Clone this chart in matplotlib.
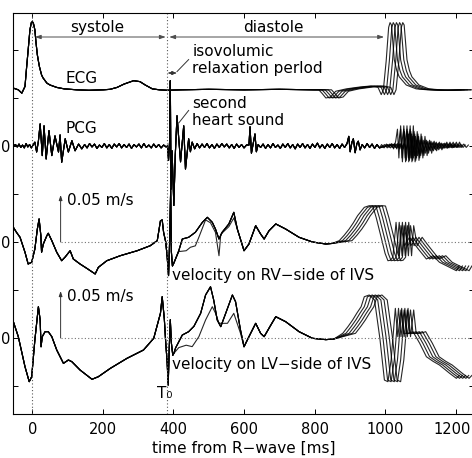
import numpy as np
import matplotlib
matplotlib.use("Agg")
import matplotlib.pyplot as plt
import matplotlib.transforms as mtransforms

plt.rcParams['font.family'] = ['DejaVu Sans']

# ---------------- data (time in ms, ECG/PCG in arbitrary units, velocity in cm/s) ----------------
beat_shifts_ms = [0, 9, 18, 27, 36]
T0_ms = 383

ecg_t_early = [-54, -40, -30, -21, -17, -12, -7, -3, 0, 3, 7, 10, 14, 17, 20, 26, 30, 41, 50, 69, 90, 126,
               160, 201, 220, 240, 260, 287, 305, 320, 340, 360, 382, 420, 500, 600, 700, 800]
ecg_v_early = [0.035, 0.0, -0.07, 0.07, 0.42, 0.83, 1.25, 1.40, 1.42, 1.38, 1.25, 1.0, 0.73, 0.6, 0.48, 0.31,
               0.25, 0.14, 0.10, 0.05, 0.02, 0.0, -0.01, 0.0, 0.01, 0.05, 0.12, 0.19, 0.17, 0.10, 0.02, 0.0,
               -0.01, 0.0, 0.01, 0.0, 0.01, 0.0]
ecg_t_late = [812, 822, 832, 845, 860, 890, 930, 960, 980, 989, 995, 1003, 1010, 1014, 1018, 1026, 1033,
              1040, 1060, 1088, 1120, 1160, 1200, 1215]
ecg_v_late = [0.0, -0.08, -0.17, -0.15, -0.03, 0.02, 0.06, 0.08, 0.05, -0.10, 0.0, 0.6, 1.3, 1.40, 1.35,
              0.625, 0.40, 0.27, 0.10, 0.02, 0.0, -0.01, 0.0, 0.0]

pcg_t_early = [-54, -48, -43, -38, -33, -28, -23, -18, -13, -8, -3, 2,
               7, 12, 17, 22, 28, 33, 39, 47, 55, 64, 74, 78.5, 83, 93, 102, 112, 121, 131, 140,
               148, 155, 162, 169, 176, 183, 190, 197, 204, 211, 218, 225, 232, 239, 246, 253, 260, 267,
               274, 281, 288, 295, 302, 309, 316, 323, 330, 337, 344, 351, 358, 365, 372, 379,
               383, 386, 389, 391, 393, 396, 401, 405, 410, 420, 429, 434, 443, 448, 453, 460, 467, 474,
               481, 488, 495, 502, 509, 516, 523, 530, 537, 544, 551, 558, 565, 572, 579, 586, 593, 600, 607,
               614, 617, 621, 626, 631, 635, 640,
               647, 654, 661, 668, 675, 682, 689, 696, 703, 710, 717, 724, 731, 738, 745, 752, 759, 766,
               773, 780, 787, 794, 801, 808, 815, 822, 829, 836, 843, 850, 857, 864, 871, 878, 885,
               892, 897, 901, 906, 910, 915, 920, 924, 929, 935, 942, 949, 956, 963, 970, 977, 984]
pcg_v_early = [0.0, 0.03, -0.02, 0.04, -0.03, 0.02, -0.04, 0.05, -0.02, 0.03, -0.04, 0.02,
               0.08, -0.125, 0.10, 0.46, -0.20, 0.42, -0.27, 0.32, -0.20, 0.21, -0.125, 0.23, -0.34, 0.15,
               -0.125, 0.11, -0.10, 0.04, -0.06,
               0.03, -0.04, 0.05, -0.02, 0.04, -0.05, 0.02, -0.03, 0.05, -0.04, 0.03, -0.05, 0.04, -0.02,
               0.05, -0.04, 0.03, -0.03, 0.04, -0.05, 0.03, -0.02, 0.04, -0.04, 0.05, -0.03, 0.02, -0.04,
               0.04, -0.03, 0.03, -0.04, 0.02, -0.02,
               0.0, -0.3, 0.1, 1.36, -0.90, -0.10, -1.24, -0.2, 0.63, -0.33, 0.42, -0.48, 0.15, -0.12, 0.08,
               -0.06, 0.05, -0.04,
               0.04, -0.03, 0.05, -0.04, 0.03, -0.05, 0.04, -0.03, 0.05, -0.02, 0.04, -0.04, 0.03, -0.05,
               0.04, -0.03, 0.03, -0.04, 0.02,
               0.02, 0.40, -0.15, 0.05, 0.25, -0.12, 0.03,
               -0.03, 0.04, -0.05, 0.03, -0.04, 0.05, -0.03, 0.02, -0.05, 0.04, -0.03, 0.05, -0.04, 0.03,
               -0.06, 0.04, -0.03, 0.05, -0.04, 0.03, -0.05, 0.04, -0.03, 0.06, -0.04, 0.03, -0.05, 0.04,
               -0.03, 0.05, -0.04, 0.03, -0.05, 0.04, -0.03,
               0.05, 0.20, -0.12, 0.08, 0.15, -0.14, 0.05, 0.10, -0.08, 0.03, -0.04, 0.05, -0.03, 0.04,
               -0.05, 0.03, -0.04]
pcg_t_late = [990, 997, 1004, 1011, 1018, 1024, 1030, 1035, 1039, 1044, 1049, 1055, 1060, 1066, 1071, 1077,
              1083, 1090, 1096, 1103, 1110, 1118, 1125, 1133, 1140, 1147, 1154, 1161, 1168, 1175, 1180,
              1187, 1194, 1200]
pcg_v_late = [0.03, -0.04, 0.04, -0.03, 0.05, -0.06, 0.10, 0.35, -0.25, 0.42, -0.33, 0.30, -0.30, 0.25,
              -0.25, 0.20, -0.20, 0.12, -0.15, 0.10, -0.10, 0.08, -0.08, 0.06, -0.05, 0.05, -0.04, 0.04,
              -0.03, 0.08, -0.03, 0.04, -0.03, 0.02]

rv_t_early = [-54, -45, -35, -21, -12, -2, 7, 14, 19, 24, 26, 31, 41, 45, 55, 69, 83, 93, 107, 116, 135, 154,
              178, 187, 211, 249, 297, 334, 354, 363, 368, 372, 378, 382, 386, 389, 392, 394, 397, 401, 415,
              425, 443, 462, 482, 496, 510, 519, 529, 538, 557, 571, 581, 600, 614, 633, 647, 657, 671, 690,
              718, 756, 794, 832, 850]
rv_v_early = [1.53, 1.0, 0.49, -1.07, -2.29, -2.11, -0.73, 1.35, 2.40, 0.66, -1.07, -0.21, 0.66, 0.91, 0.14,
              -1.07, -1.95, -1.56, -0.91, -1.77, -2.29, -2.74, -3.33, -2.64, -1.95, -1.43, -0.91, -0.39, 0.14,
              2.2, 2.3, 1.0, 0.0, -1.5, -3.5, 0.0, 5.5, -1.0, -2.5, -2.2, -0.91, 0.31, 0.49, 1.01, 2.05, 2.57,
              2.05, 1.35, 0.31, 1.01, 1.88, 3.09, 1.35, -0.91, -0.21, 1.70, 0.83, 0.31, 1.18, 1.88, 1.35, 0.49,
              0.0, -0.21, -0.15]
rv_t_alt = [401, 415, 436, 448, 462, 472, 491, 505, 519, 529, 534, 557, 571, 581, 600]
rv_v_alt = [-2.2, -1.0, -0.91, -0.55, -0.4, 0.5, 2.3, 2.0, 1.0, -1.43, 0.8, 1.6, 2.5, 1.35, -0.91]
rv_t_late = [870, 884, 898, 910, 922, 941, 955, 965, 975, 990, 1000, 1008, 1015, 1022, 1031, 1039, 1045,
             1055, 1069, 1083, 1098, 1117, 1136, 1154, 1183, 1202, 1210]
rv_v_late = [0.14, 0.7, 1.35, 2.0, 2.74, 3.61, 3.78, 3.75, 2.5, 0.3, -1.2, -1.95, -1.9, -1.59, 2.05, -1.43,
             1.70, -0.39, 0.49, -0.21, -0.91, -1.77, -1.43, -2.11, -2.64, -2.99, -2.5]

lv_t_early = [-54, -40, -30, -21, -9, -2, 7, 17, 22, 24.5, 28, 36, 45, 55, 69, 88, 102, 112, 135, 169, 187,
              221, 268, 315, 344, 363, 368, 374, 378, 382, 385, 388, 391, 394, 398, 401, 406, 425, 443, 458,
              477, 491, 505, 514, 524, 534, 548, 567, 576, 590, 600, 614, 633, 647, 657, 676, 690, 718, 756,
              794, 832, 855]
lv_v_early = [1.70, 0.14, -1.5, -2.99, -4.55, -4.03, -0.21, 3.26, 1.88, -0.91, 0.14, 0.66, 0.66, 0.14, -1.25,
              -2.64, -2.29, -2.47, -3.33, -4.30, -4.03, -3.16, -2.12, -1.25, -0.03, 2.57, 4.3, 2.0, -0.5,
              -2.5, -4.9, -1.0, 1.9, -0.5, -1.8, -1.6, -1.03, 0.31, 0.66, 1.22, 2.57, 4.48, 5.34, 3.96, 1.88,
              1.18, 2.57, 4.48, 3.78, 0.83, -0.91, 0.14, 1.53, 0.49, 0.14, 1.35, 2.22, 1.70, 0.66, -0.03,
              -0.17, -0.1]
lv_t_alt = [401, 415, 436, 453, 472, 491, 510, 519, 529, 553, 571, 590, 600]
lv_v_alt = [-1.6, -1.0, -0.75, -0.9, 0.14, 1.88, 3.26, 2.6, 1.53, 1.53, 2.57, 0.49, -0.91]
lv_t_late = [880, 895, 908, 920, 932, 941, 955, 970, 985, 998, 1008, 1017, 1029, 1036, 1045, 1052, 1065,
             1079, 1098, 1117, 1136, 1154, 1183, 1202, 1210]
lv_v_late = [0.49, 1.2, 1.88, 2.6, 3.26, 4.30, 4.48, 3.96, 0.0, -4.38, -4.55, -2.29, 3.09, 0.14, 2.92, 0.49,
             0.49, 0.66, -0.55, -1.95, -2.43, -2.81, -3.68, -4.20, -3.9]

x_ticks = [0, 200, 400, 600, 800, 1000, 1200]
y_ticks = [0, 1, 2, 3, 4, 5, 6, 7]
y_ticklabels = ["", "0", "", "0", "", "0", "", ""]
scale_bar_cms = 5.0          # 0.05 m/s
# ---------------------------------------------------------------------------------------------

# vertical offsets of the stacked traces (axis units; 1 unit = 0.05 m/s for velocities)
OFF_ECG, OFF_PCG, OFF_RV, OFF_LV = 6.17, 5.0, 3.0, 1.0

fig = plt.figure(figsize=(4.72, 4.58), dpi=100)
ax = fig.add_axes([13 / 472, 44 / 458, 461 / 472, 401 / 458])
ax.set_xlim(-55, 1252)
ax.set_ylim(-0.583, 7.77)

LW = 0.8
COL = 'black'


def beats(t_early, v_early, t_late, v_late, t_alt=None, v_alt=None):
    out = []
    te, ve = np.asarray(t_early, float), np.asarray(v_early, float)
    tl, vl = np.asarray(t_late, float), np.asarray(v_late, float)
    for k, s in enumerate(beat_shifts_ms):
        if t_alt is not None and k == 2:
            ta = np.asarray(t_alt, float)
            va = np.asarray(v_alt, float)
            m1 = te < ta[0]
            m2 = te > ta[-1]
            t0 = np.concatenate([te[m1], ta, te[m2]])
            v0 = np.concatenate([ve[m1], va, ve[m2]])
        else:
            t0, v0 = te, ve
        out.append((np.concatenate([t0, tl + s]), np.concatenate([v0, vl])))
    return out


for t, v in beats(ecg_t_early, ecg_v_early, ecg_t_late, ecg_v_late):
    ax.plot(t, OFF_ECG + v, color=COL, lw=LW, alpha=0.85)
for t, v in beats(pcg_t_early, pcg_v_early, pcg_t_late, pcg_v_late):
    ax.plot(t, OFF_PCG + v, color=COL, lw=LW, alpha=0.85)
for t, v in beats(rv_t_early, rv_v_early, rv_t_late, rv_v_late, rv_t_alt, rv_v_alt):
    ax.plot(t, OFF_RV + v / scale_bar_cms, color=COL, lw=LW, alpha=0.85)
for t, v in beats(lv_t_early, lv_v_early, lv_t_late, lv_v_late, lv_t_alt, lv_v_alt):
    ax.plot(t, OFF_LV + v / scale_bar_cms, color=COL, lw=LW, alpha=0.85)

# reference lines
dot = (0, (1, 2))
ax.axvline(0, color='0.35', lw=0.8, ls=dot)
ax.axvline(T0_ms, color='0.35', lw=0.8, ls=dot)
ax.plot([80, 1252], [OFF_RV, OFF_RV], color='0.45', lw=0.8, ls=dot)
ax.plot([80, 1252], [OFF_LV, OFF_LV], color='0.45', lw=0.8, ls=dot)

# systole / diastole arrows
ap = dict(arrowstyle='<|-|>,head_length=0.35,head_width=0.12', color='0.3', lw=0.7,
          shrinkA=0, shrinkB=0)
ax.annotate('', xy=(7, 7.27), xytext=(378, 7.27), arrowprops=ap)
ax.annotate('', xy=(388, 7.27), xytext=(997, 7.27), arrowprops=ap)
fs = 11
ax.text(184, 7.46, 'systole', ha='center', va='center', fontsize=fs)
ax.text(684, 7.46, 'diastole', ha='center', va='center', fontsize=fs)

# isovolumic relaxation period
ax.annotate('', xy=(383, 6.52), xytext=(410, 6.52),
            arrowprops=dict(arrowstyle='<|-|>,head_length=0.3,head_width=0.1', color='0.2', lw=0.6,
                            shrinkA=0, shrinkB=0))
ax.plot([410, 443], [6.55, 6.80], color='0.2', lw=0.7)
ax.text(453, 6.96, 'isovolumic', ha='left', va='center', fontsize=fs)
ax.text(453, 6.62, 'relaxation perlod', ha='left', va='center', fontsize=fs)

# second heart sound
ax.plot([415, 443], [5.48, 5.74], color='0.2', lw=0.7)
ax.text(453, 5.88, 'second', ha='left', va='center', fontsize=fs)
ax.text(453, 5.54, 'heart sound', ha='left', va='center', fontsize=fs)

ax.text(93, 6.41, 'ECG', ha='left', va='center', fontsize=fs)
ax.text(93, 5.37, 'PCG', ha='left', va='center', fontsize=fs)

# scale bars 0.05 m/s
for off in (OFF_RV, OFF_LV):
    ax.annotate('', xy=(80, off + 0.98), xytext=(80, off),
                arrowprops=dict(arrowstyle='-|>,head_length=0.3,head_width=0.1', color='0.2', lw=0.7,
                                shrinkA=0, shrinkB=0))
    ax.text(97, off + 0.86, '0.05 m/s', ha='left', va='center', fontsize=fs)

ax.text(396, 2.31, 'velocity on RV\u2212side of IVS', ha='left', va='center', fontsize=fs)
ax.text(396, 0.45, 'velocity on LV\u2212side of IVS', ha='left', va='center', fontsize=fs)
ax.text(354, -0.15, 'T\u2080', ha='left', va='center', fontsize=fs)

# axes cosmetics
ax.set_xticks(x_ticks)
ax.set_yticks(y_ticks)
ax.set_yticklabels(y_ticklabels)
ax.tick_params(axis='both', direction='in', length=3.5, width=0.7, top=True, right=True,
               labelsize=10.5)
ax.tick_params(axis='x', pad=5.5)
ax.tick_params(axis='y', pad=2)
for sp in ax.spines.values():
    sp.set_linewidth(0.8)
ax.set_xlabel('time from R\u2212wave [ms]', fontsize=fs, labelpad=3)

# keep the last x tick label inside the picture
last = ax.get_xticklabels()[-1]
last.set_transform(last.get_transform() + mtransforms.ScaledTranslation(-4 / 100, 0, fig.dpi_scale_trans))

fig.savefig('out.png', dpi=100)
